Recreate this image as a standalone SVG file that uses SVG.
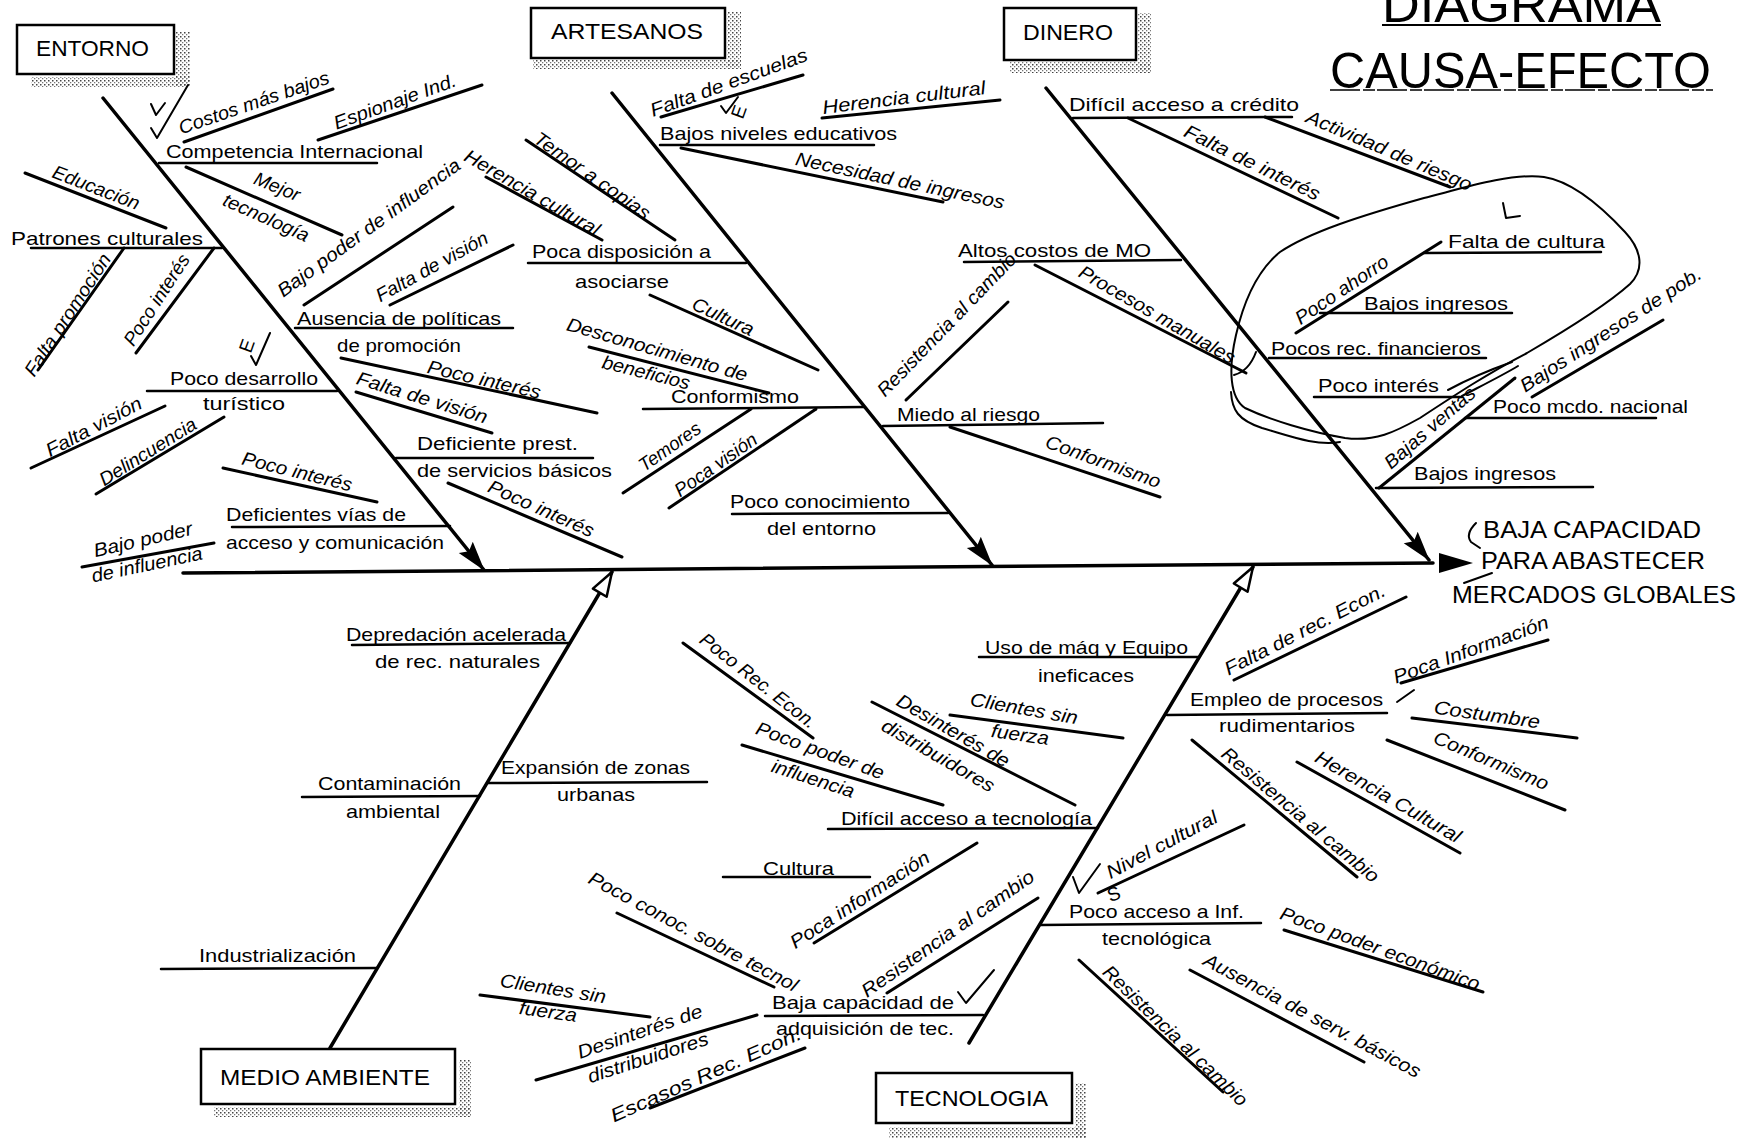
<svg xmlns="http://www.w3.org/2000/svg" width="1748" height="1142" viewBox="0 0 1748 1142">
  <style>
    .t { font-family: "Liberation Sans", Arial, sans-serif; font-size: 19px; fill: #000; }
    .r { text-anchor: middle; font-style: italic; }
    .box { fill: #fff; stroke: #000; stroke-width: 2.5; }
    .boxlabel { font-family: "Liberation Sans", Arial, sans-serif; font-size: 22px; fill: #000; }
    .shadow { fill: url(#grain); }
    .bone { stroke: #000; stroke-width: 3.5; stroke-linecap: round; fill: none; }
    .rib { stroke: #000; stroke-width: 3; stroke-linecap: round; fill: none; }
    .ul { stroke: #000; stroke-width: 2.5; stroke-linecap: round; fill: none; }
    .pen { stroke: #000; stroke-width: 2; stroke-linecap: round; stroke-linejoin: round; fill: none; }
    .title { font-family: "Liberation Sans", Arial, sans-serif; font-size: 50px; fill: #000; }
    .effect { font-family: "Liberation Sans", Arial, sans-serif; font-size: 24px; fill: #000; }
  </style>
  <defs>
    <pattern id="grain" width="4" height="4" patternUnits="userSpaceOnUse">
      <rect width="1.5" height="1.5" fill="#444"/>
      <rect x="2" y="2" width="1.3" height="1.3" fill="#777"/>
    </pattern>
    <marker id="ah" viewBox="0 0 30 20" refX="29" refY="10" markerWidth="30" markerHeight="20" markerUnits="userSpaceOnUse" orient="auto">
      <path d="M0,1 L30,10 L0,19 L5,10 z" fill="#000"/>
    </marker>
    <marker id="ah-open" viewBox="0 0 28 20" refX="26" refY="10" markerWidth="28" markerHeight="20" markerUnits="userSpaceOnUse" orient="auto">
      <path d="M2,2 L26,10 L2,18 z" fill="#fff" stroke="#000" stroke-width="2.5" stroke-linejoin="round"/>
    </marker>
  </defs>

  <rect width="1748" height="1142" fill="#fff"/>

  <!-- title -->
  <g id="title">
    <text class="title" x="1382" y="22" textLength="279" lengthAdjust="spacingAndGlyphs">DIAGRAMA</text>
    <line x1="1382" y1="25" x2="1661" y2="25" stroke="#000" stroke-width="2"/>
    <text class="title" x="1330" y="88" textLength="381" lengthAdjust="spacingAndGlyphs">CAUSA-EFECTO</text>
    <line x1="1330" y1="90" x2="1713" y2="90" stroke="#000" stroke-width="1.5" stroke-dasharray="30 3 12 2"/>
  </g>

  <!-- spine and category bones -->
  <g id="connectors">
    <line class="bone" x1="183" y1="573" x2="1433" y2="563"/>
    <line class="bone" x1="103" y1="98" x2="484" y2="570" marker-end="url(#ah)"/>
    <line class="bone" x1="612" y1="93" x2="992" y2="565" marker-end="url(#ah)"/>
    <line class="bone" x1="1046" y1="88" x2="1429" y2="560" marker-end="url(#ah)"/>
    <line class="bone" x1="330" y1="1048" x2="612" y2="572" marker-end="url(#ah-open)"/>
    <line class="bone" x1="969" y1="1043" x2="1253" y2="567" marker-end="url(#ah-open)"/>
    <polygon points="1439,553 1473,563 1439,573" fill="#000"/>
  </g>

  <!-- category boxes -->
  <g id="node-entorno">
    <rect class="shadow" x="176" y="32" width="14" height="55"/>
    <rect class="shadow" x="31" y="77" width="159" height="10"/>
    <rect class="box" x="17" y="25" width="157" height="49"/>
    <text class="boxlabel" x="36" y="56" textLength="113" lengthAdjust="spacingAndGlyphs">ENTORNO</text>
  </g>
  <g id="node-artesanos">
    <rect class="shadow" x="727" y="12" width="14" height="57"/>
    <rect class="shadow" x="533" y="60" width="208" height="9"/>
    <rect class="box" x="531" y="8" width="194" height="50"/>
    <text class="boxlabel" x="551" y="39" textLength="152" lengthAdjust="spacingAndGlyphs">ARTESANOS</text>
  </g>
  <g id="node-dinero">
    <rect class="shadow" x="1138" y="13" width="13" height="60"/>
    <rect class="shadow" x="1010" y="62" width="141" height="11"/>
    <rect class="box" x="1004" y="8" width="132" height="52"/>
    <text class="boxlabel" x="1023" y="40" textLength="90" lengthAdjust="spacingAndGlyphs">DINERO</text>
  </g>
  <g id="node-medio-ambiente">
    <rect class="shadow" x="459" y="1060" width="12" height="57"/>
    <rect class="shadow" x="214" y="1107" width="257" height="10"/>
    <rect class="box" x="201" y="1049" width="254" height="55"/>
    <text class="boxlabel" x="220" y="1085" textLength="210" lengthAdjust="spacingAndGlyphs">MEDIO AMBIENTE</text>
  </g>
  <g id="node-tecnologia">
    <rect class="shadow" x="1075" y="1083" width="11" height="55"/>
    <rect class="shadow" x="889" y="1127" width="197" height="11"/>
    <rect class="box" x="876" y="1073" width="196" height="50"/>
    <text class="boxlabel" x="895" y="1106" textLength="153" lengthAdjust="spacingAndGlyphs">TECNOLOGIA</text>
  </g>

  <!-- effect -->
  <g id="node-efecto">
    <text class="effect" x="1483" y="538" textLength="218" lengthAdjust="spacingAndGlyphs">BAJA CAPACIDAD</text>
    <text class="effect" x="1481" y="569" textLength="224" lengthAdjust="spacingAndGlyphs">PARA ABASTECER</text>
    <text class="effect" x="1452" y="603" textLength="284" lengthAdjust="spacingAndGlyphs">MERCADOS GLOBALES</text>
    <path class="pen" d="M1476,523 Q1465,534 1471,542 L1480,548" stroke-width="1.5"/>
    <path class="pen" d="M1464,583 L1492,573" stroke-width="1.2"/>
  </g>

  <!-- ENTORNO causes -->
  <g id="causes-entorno">
    <line class="rib" x1="184" y1="142" x2="333" y2="89"/>
    <line class="rib" x1="318" y1="140" x2="482" y2="85"/>
    <line class="ul" x1="159" y1="163" x2="377" y2="163"/>
    <line class="rib" x1="186" y1="167" x2="342" y2="235"/>
    <line class="rib" x1="25" y1="173" x2="166" y2="228"/>
    <line class="ul" x1="31" y1="248" x2="222" y2="248"/>
    <line class="rib" x1="38" y1="370" x2="124" y2="248"/>
    <line class="rib" x1="136" y1="353" x2="214" y2="248"/>
    <line class="rib" x1="304" y1="305" x2="453" y2="207"/>
    <line class="rib" x1="390" y1="305" x2="513" y2="245"/>
    <line class="ul" x1="295" y1="328" x2="513" y2="328"/>
    <line class="rib" x1="341" y1="358" x2="597" y2="413"/>
    <line class="rib" x1="356" y1="392" x2="492" y2="433"/>
    <line class="ul" x1="396" y1="458" x2="593" y2="458"/>
    <line class="rib" x1="448" y1="483" x2="622" y2="557"/>
    <line class="ul" x1="147" y1="391" x2="337" y2="391"/>
    <line class="rib" x1="31" y1="468" x2="165" y2="406"/>
    <line class="rib" x1="96" y1="494" x2="224" y2="417"/>
    <line class="rib" x1="223" y1="468" x2="377" y2="502"/>
    <line class="ul" x1="232" y1="527" x2="450" y2="526"/>
    <line class="rib" x1="82" y1="567" x2="214" y2="543"/>

    <text class="t r" transform="translate(254 103) rotate(-19)" y="6" textLength="158" lengthAdjust="spacingAndGlyphs">Costos más bajos</text>
    <text class="t r" transform="translate(395 102) rotate(-20)" y="6" textLength="129" lengthAdjust="spacingAndGlyphs">Espionaje Ind.</text>
    <text class="t" x="166" y="158" textLength="257" lengthAdjust="spacingAndGlyphs">Competencia Internacional</text>
    <text class="t r" transform="translate(277 187) rotate(22)" y="6" textLength="48" lengthAdjust="spacingAndGlyphs">Mejor</text>
    <text class="t r" transform="translate(266 218) rotate(24)" y="6" textLength="92" lengthAdjust="spacingAndGlyphs">tecnología</text>
    <text class="t r" transform="translate(96 188) rotate(21)" y="6" textLength="92" lengthAdjust="spacingAndGlyphs">Educación</text>
    <text class="t" x="11" y="245" textLength="192" lengthAdjust="spacingAndGlyphs">Patrones culturales</text>
    <text class="t r" transform="translate(68 315) rotate(-57)" y="6" textLength="142" lengthAdjust="spacingAndGlyphs">Falta promoción</text>
    <text class="t r" transform="translate(157 300) rotate(-57)" y="6" textLength="105" lengthAdjust="spacingAndGlyphs">Poco interés</text>
    <text class="t r" transform="translate(369 228) rotate(-36)" y="6" textLength="221" lengthAdjust="spacingAndGlyphs">Bajo poder de influencia</text>
    <text class="t r" transform="translate(432 267) rotate(-29)" y="6" textLength="125" lengthAdjust="spacingAndGlyphs">Falta de visión</text>
    <text class="t" x="297" y="325" textLength="204" lengthAdjust="spacingAndGlyphs">Ausencia de políticas</text>
    <text class="t" x="337" y="352" textLength="124" lengthAdjust="spacingAndGlyphs">de promoción</text>
    <text class="t r" transform="translate(484 380) rotate(13)" y="6" textLength="116" lengthAdjust="spacingAndGlyphs">Poco interés</text>
    <text class="t r" transform="translate(422 398) rotate(17)" y="6" textLength="136" lengthAdjust="spacingAndGlyphs">Falta de visión</text>
    <text class="t" x="417" y="450" textLength="161" lengthAdjust="spacingAndGlyphs">Deficiente prest.</text>
    <text class="t" x="417" y="477" textLength="195" lengthAdjust="spacingAndGlyphs">de servicios básicos</text>
    <text class="t r" transform="translate(541 509) rotate(24)" y="6" textLength="114" lengthAdjust="spacingAndGlyphs">Poco interés</text>
    <text class="t" x="170" y="385" textLength="148" lengthAdjust="spacingAndGlyphs">Poco desarrollo</text>
    <text class="t" x="203" y="410" textLength="82" lengthAdjust="spacingAndGlyphs">turístico</text>
    <text class="t r" transform="translate(94 427) rotate(-28)" y="6" textLength="106" lengthAdjust="spacingAndGlyphs">Falta visión</text>
    <text class="t r" transform="translate(148 452) rotate(-32)" y="6" textLength="111" lengthAdjust="spacingAndGlyphs">Delincuencia</text>
    <text class="t r" transform="translate(297 472) rotate(14)" y="6" textLength="113" lengthAdjust="spacingAndGlyphs">Poco interés</text>
    <text class="t" x="226" y="521" textLength="180" lengthAdjust="spacingAndGlyphs">Deficientes vías de</text>
    <text class="t" x="226" y="549" textLength="218" lengthAdjust="spacingAndGlyphs">acceso y comunicación</text>
    <text class="t r" transform="translate(143 540) rotate(-13)" y="6" textLength="101" lengthAdjust="spacingAndGlyphs">Bajo poder</text>
    <text class="t r" transform="translate(147 565) rotate(-12)" y="6" textLength="113" lengthAdjust="spacingAndGlyphs">de influencia</text>

    <!-- pen marks -->
    <path class="pen" d="M151,104 L156,115 L165,103"/>
    <path class="pen" d="M151,128 L157,138 L188,85"/>
    <path class="pen" d="M251,356 L256,365 L270,333"/>
    <text class="t" transform="translate(253 348) rotate(-70)" font-size="11" text-anchor="middle">E</text>
  </g>

  <!-- ARTESANOS causes -->
  <g id="causes-artesanos">
    <line class="rib" x1="486" y1="177" x2="602" y2="240"/>
    <line class="rib" x1="661" y1="117" x2="803" y2="75"/>
    <line class="rib" x1="822" y1="118" x2="1000" y2="100"/>
    <line class="ul" x1="660" y1="145" x2="874" y2="145"/>
    <line class="rib" x1="681" y1="148" x2="943" y2="202"/>
    <line class="rib" x1="526" y1="140" x2="675" y2="240"/>
    <line class="ul" x1="528" y1="263" x2="746" y2="263"/>
    <line class="rib" x1="650" y1="295" x2="818" y2="370"/>
    <line class="rib" x1="589" y1="347" x2="769" y2="393"/>
    <line class="ul" x1="643" y1="409" x2="864" y2="407"/>
    <line class="rib" x1="623" y1="493" x2="751" y2="409"/>
    <line class="rib" x1="669" y1="508" x2="816" y2="409"/>
    <line class="ul" x1="732" y1="514" x2="948" y2="513"/>
    <line class="rib" x1="906" y1="400" x2="1008" y2="302"/>
    <line class="ul" x1="883" y1="426" x2="1103" y2="423"/>
    <line class="rib" x1="950" y1="427" x2="1160" y2="497"/>

    <text class="t r" transform="translate(532 193) rotate(30)" y="6" textLength="153" lengthAdjust="spacingAndGlyphs">Herencia cultural</text>
    <text class="t r" transform="translate(729 83) rotate(-20)" y="6" textLength="166" lengthAdjust="spacingAndGlyphs">Falta de escuelas</text>
    <text class="t r" transform="translate(904 98) rotate(-7)" y="6" textLength="164" lengthAdjust="spacingAndGlyphs">Herencia cultural</text>
    <text class="t" x="660" y="140" textLength="237" lengthAdjust="spacingAndGlyphs">Bajos niveles educativos</text>
    <text class="t r" transform="translate(900 181) rotate(12)" y="6" textLength="213" lengthAdjust="spacingAndGlyphs">Necesidad de ingresos</text>
    <text class="t r" transform="translate(592 176) rotate(35)" y="6" textLength="137" lengthAdjust="spacingAndGlyphs">Temor a copias</text>
    <text class="t" x="532" y="258" textLength="179" lengthAdjust="spacingAndGlyphs">Poca disposición a</text>
    <text class="t" x="575" y="288" textLength="94" lengthAdjust="spacingAndGlyphs">asociarse</text>
    <text class="t r" transform="translate(723 317) rotate(25)" y="6" textLength="66" lengthAdjust="spacingAndGlyphs">Cultura</text>
    <text class="t r" transform="translate(657 350) rotate(16)" y="6" textLength="187" lengthAdjust="spacingAndGlyphs">Desconocimiento de</text>
    <text class="t r" transform="translate(646 373) rotate(14)" y="6" textLength="90" lengthAdjust="spacingAndGlyphs">beneficios</text>
    <text class="t" x="671" y="403" textLength="128" lengthAdjust="spacingAndGlyphs">Conformismo</text>
    <text class="t r" transform="translate(670 447) rotate(-35)" y="6" textLength="71" lengthAdjust="spacingAndGlyphs">Temores</text>
    <text class="t r" transform="translate(716 465) rotate(-35)" y="6" textLength="96" lengthAdjust="spacingAndGlyphs">Poca visión</text>
    <text class="t" x="730" y="508" textLength="180" lengthAdjust="spacingAndGlyphs">Poco conocimiento</text>
    <text class="t" x="767" y="535" textLength="109" lengthAdjust="spacingAndGlyphs">del entorno</text>
    <text class="t r" transform="translate(947 325) rotate(-46)" y="6" textLength="191" lengthAdjust="spacingAndGlyphs">Resistencia al cambio</text>
    <text class="t" x="897" y="421" textLength="143" lengthAdjust="spacingAndGlyphs">Miedo al riesgo</text>
    <text class="t r" transform="translate(1103 462) rotate(20)" y="6" textLength="121" lengthAdjust="spacingAndGlyphs">Conformismo</text>

    <path class="pen" d="M721,106 L726,113 L738,97"/>
    <text class="t" transform="translate(745 114) rotate(-70)" font-size="10" text-anchor="middle">E</text>
  </g>

  <!-- DINERO causes -->
  <g id="causes-dinero">
    <line class="ul" x1="1073" y1="118" x2="1292" y2="117"/>
    <line class="rib" x1="1265" y1="117" x2="1450" y2="187"/>
    <line class="rib" x1="1128" y1="118" x2="1338" y2="218"/>
    <line class="ul" x1="964" y1="262" x2="1181" y2="260"/>
    <line class="rib" x1="1035" y1="265" x2="1246" y2="373"/>
    <line class="ul" x1="1424" y1="253" x2="1601" y2="252"/>
    <line class="rib" x1="1296" y1="333" x2="1441" y2="242"/>
    <line class="ul" x1="1320" y1="313" x2="1512" y2="313"/>
    <line class="ul" x1="1269" y1="358" x2="1486" y2="358"/>
    <line class="ul" x1="1314" y1="397" x2="1462" y2="397"/>
    <line class="rib" x1="1379" y1="488" x2="1515" y2="378"/>
    <line class="rib" x1="1532" y1="397" x2="1663" y2="320"/>
    <line class="ul" x1="1465" y1="418" x2="1656" y2="418"/>
    <line class="ul" x1="1376" y1="488" x2="1593" y2="487"/>

    <!-- hand-drawn ring round the financial causes -->
    <path class="pen" d="M1424,198 C1450,192 1510,172 1544,177 C1570,181 1600,205 1625,232 C1640,248 1646,268 1630,284 C1610,302 1575,325 1527,353 C1490,372 1455,395 1420,418 C1395,432 1375,442 1345,438 C1310,432 1270,420 1245,408 C1230,398 1228,370 1236,335 C1244,300 1258,270 1280,252 C1310,232 1360,216 1424,198 Z"/>
    <path class="pen" d="M1231,392 C1232,410 1238,420 1262,428 C1290,436 1315,446 1340,442" stroke-width="1.5"/>
    <path class="pen" d="M1448,390 C1470,378 1495,368 1512,362" stroke-width="1.5"/>
    <path class="pen" d="M1462,396 C1485,384 1505,374 1518,366" stroke-width="1.5"/>
    <path class="pen" d="M1234,375 Q1249,371 1256,352" stroke-width="1.5"/>
    <path class="pen" d="M1503,203 L1506,218 L1520,216" stroke-width="1.5"/>

    <text class="t" x="1069" y="111" textLength="230" lengthAdjust="spacingAndGlyphs">Difícil acceso a crédito</text>
    <text class="t r" transform="translate(1389 151) rotate(23)" y="6" textLength="178" lengthAdjust="spacingAndGlyphs">Actividad de riesgo</text>
    <text class="t r" transform="translate(1252 163) rotate(26)" y="6" textLength="149" lengthAdjust="spacingAndGlyphs">Falta de interés</text>
    <text class="t" x="958" y="257" textLength="193" lengthAdjust="spacingAndGlyphs">Altos costos de MO</text>
    <text class="t r" transform="translate(1157 315) rotate(30)" y="6" textLength="177" lengthAdjust="spacingAndGlyphs">Procesos manuales</text>
    <text class="t" x="1448" y="248" textLength="157" lengthAdjust="spacingAndGlyphs">Falta de cultura</text>
    <text class="t r" transform="translate(1342 290) rotate(-34)" y="6" textLength="108" lengthAdjust="spacingAndGlyphs">Poco ahorro</text>
    <text class="t" x="1364" y="310" textLength="144" lengthAdjust="spacingAndGlyphs">Bajos ingresos</text>
    <text class="t" x="1271" y="355" textLength="210" lengthAdjust="spacingAndGlyphs">Pocos rec. financieros</text>
    <text class="t" x="1318" y="392" textLength="121" lengthAdjust="spacingAndGlyphs">Poco interés</text>
    <text class="t r" transform="translate(1430 428) rotate(-41)" y="6" textLength="114" lengthAdjust="spacingAndGlyphs">Bajas ventas</text>
    <text class="t r" transform="translate(1611 330) rotate(-33)" y="6" textLength="212" lengthAdjust="spacingAndGlyphs">Bajos ingresos de pob.</text>
    <text class="t" x="1493" y="413" textLength="195" lengthAdjust="spacingAndGlyphs">Poco mcdo. nacional</text>
    <text class="t" x="1414" y="480" textLength="142" lengthAdjust="spacingAndGlyphs">Bajos ingresos</text>
  </g>

  <!-- MEDIO AMBIENTE causes -->
  <g id="causes-medio-ambiente">
    <line class="ul" x1="352" y1="645" x2="570" y2="643"/>
    <line class="ul" x1="302" y1="797" x2="480" y2="796"/>
    <line class="ul" x1="488" y1="783" x2="707" y2="782"/>
    <line class="ul" x1="161" y1="969" x2="377" y2="968"/>
    <text class="t" x="346" y="641" textLength="220" lengthAdjust="spacingAndGlyphs">Depredación acelerada</text>
    <text class="t" x="375" y="668" textLength="165" lengthAdjust="spacingAndGlyphs">de rec. naturales</text>
    <text class="t" x="318" y="790" textLength="143" lengthAdjust="spacingAndGlyphs">Contaminación</text>
    <text class="t" x="346" y="818" textLength="94" lengthAdjust="spacingAndGlyphs">ambiental</text>
    <text class="t" x="501" y="774" textLength="189" lengthAdjust="spacingAndGlyphs">Expansión de zonas</text>
    <text class="t" x="557" y="801" textLength="78" lengthAdjust="spacingAndGlyphs">urbanas</text>
    <text class="t" x="199" y="962" textLength="157" lengthAdjust="spacingAndGlyphs">Industrialización</text>
  </g>

  <!-- TECNOLOGIA causes -->
  <g id="causes-tecnologia">
    <line class="ul" x1="979" y1="657" x2="1198" y2="657"/>
    <line class="rib" x1="950" y1="715" x2="1123" y2="738"/>
    <line class="rib" x1="872" y1="702" x2="1075" y2="805"/>
    <line class="rib" x1="683" y1="643" x2="813" y2="738"/>
    <line class="rib" x1="742" y1="745" x2="943" y2="805"/>
    <line class="ul" x1="828" y1="829" x2="1098" y2="828"/>
    <line class="ul" x1="723" y1="877" x2="870" y2="877"/>
    <line class="rib" x1="814" y1="943" x2="977" y2="843"/>
    <line class="rib" x1="887" y1="993" x2="1038" y2="898"/>
    <line class="ul" x1="765" y1="1016" x2="983" y2="1015"/>
    <line class="rib" x1="617" y1="913" x2="774" y2="987"/>
    <line class="rib" x1="480" y1="995" x2="650" y2="1017"/>
    <line class="rib" x1="536" y1="1080" x2="757" y2="1015"/>
    <line class="rib" x1="650" y1="1108" x2="805" y2="1048"/>
    <line class="rib" x1="1234" y1="680" x2="1406" y2="597"/>
    <line class="ul" x1="1167" y1="715" x2="1387" y2="713"/>
    <line class="rib" x1="1401" y1="683" x2="1548" y2="640"/>
    <line class="rib" x1="1412" y1="718" x2="1577" y2="738"/>
    <line class="rib" x1="1387" y1="740" x2="1565" y2="810"/>
    <line class="rib" x1="1297" y1="762" x2="1460" y2="853"/>
    <line class="rib" x1="1192" y1="740" x2="1357" y2="877"/>
    <line class="rib" x1="1098" y1="893" x2="1244" y2="825"/>
    <line class="ul" x1="1040" y1="925" x2="1261" y2="923"/>
    <line class="rib" x1="1284" y1="930" x2="1483" y2="992"/>
    <line class="rib" x1="1190" y1="970" x2="1364" y2="1062"/>
    <line class="rib" x1="1079" y1="960" x2="1223" y2="1092"/>

    <text class="t" x="985" y="654" textLength="203" lengthAdjust="spacingAndGlyphs">Uso de máq y Equipo</text>
    <text class="t" x="1038" y="682" textLength="96" lengthAdjust="spacingAndGlyphs">ineficaces</text>
    <text class="t r" transform="translate(1024 709) rotate(10)" y="6" textLength="109" lengthAdjust="spacingAndGlyphs">Clientes sin</text>
    <text class="t r" transform="translate(1020 735) rotate(8)" y="6" textLength="58" lengthAdjust="spacingAndGlyphs">fuerza</text>
    <text class="t r" transform="translate(953 731) rotate(30)" y="6" textLength="127" lengthAdjust="spacingAndGlyphs">Desinterés de</text>
    <text class="t r" transform="translate(938 756) rotate(30)" y="6" textLength="127" lengthAdjust="spacingAndGlyphs">distribuidores</text>
    <text class="t r" transform="translate(758 681) rotate(38)" y="6" textLength="142" lengthAdjust="spacingAndGlyphs">Poco Rec. Econ.</text>
    <text class="t r" transform="translate(820 751) rotate(20)" y="6" textLength="135" lengthAdjust="spacingAndGlyphs">Poco poder de</text>
    <text class="t r" transform="translate(813 779) rotate(18)" y="6" textLength="86" lengthAdjust="spacingAndGlyphs">influencia</text>
    <text class="t" x="841" y="825" textLength="251" lengthAdjust="spacingAndGlyphs">Difícil acceso a tecnología</text>
    <text class="t" x="763" y="875" textLength="71" lengthAdjust="spacingAndGlyphs">Cultura</text>
    <text class="t r" transform="translate(860 900) rotate(-33)" y="6" textLength="162" lengthAdjust="spacingAndGlyphs">Poca información</text>
    <text class="t r" transform="translate(948 934) rotate(-35)" y="6" textLength="206" lengthAdjust="spacingAndGlyphs">Resistencia al cambio</text>
    <text class="t" x="772" y="1009" textLength="182" lengthAdjust="spacingAndGlyphs">Baja capacidad de</text>
    <text class="t" x="776" y="1035" textLength="178" lengthAdjust="spacingAndGlyphs">adquisición de tec.</text>
    <text class="t r" transform="translate(693 932) rotate(28)" y="6" textLength="234" lengthAdjust="spacingAndGlyphs">Poco conoc. sobre tecnol</text>
    <text class="t r" transform="translate(553 989) rotate(9)" y="6" textLength="107" lengthAdjust="spacingAndGlyphs">Clientes sin</text>
    <text class="t r" transform="translate(548 1012) rotate(8)" y="6" textLength="58" lengthAdjust="spacingAndGlyphs">fuerza</text>
    <text class="t r" transform="translate(640 1032) rotate(-19)" y="6" textLength="131" lengthAdjust="spacingAndGlyphs">Desinterés de</text>
    <text class="t r" transform="translate(648 1058) rotate(-18)" y="6" textLength="126" lengthAdjust="spacingAndGlyphs">distribuidores</text>
    <text class="t r" transform="translate(706 1075) rotate(-24)" y="6" textLength="207" lengthAdjust="spacingAndGlyphs">Escasos Rec. Econ.</text>
    <text class="t r" transform="translate(1305 630) rotate(-27)" y="6" textLength="178" lengthAdjust="spacingAndGlyphs">Falta de rec. Econ.</text>
    <text class="t" x="1190" y="706" textLength="193" lengthAdjust="spacingAndGlyphs">Empleo de procesos</text>
    <text class="t" x="1219" y="732" textLength="136" lengthAdjust="spacingAndGlyphs">rudimentarios</text>
    <text class="t r" transform="translate(1471 650) rotate(-20)" y="6" textLength="164" lengthAdjust="spacingAndGlyphs">Poca Información</text>
    <text class="t r" transform="translate(1487 715) rotate(8)" y="6" textLength="107" lengthAdjust="spacingAndGlyphs">Costumbre</text>
    <text class="t r" transform="translate(1491 761) rotate(23)" y="6" textLength="123" lengthAdjust="spacingAndGlyphs">Conformismo</text>
    <text class="t r" transform="translate(1388 797) rotate(30)" y="6" textLength="165" lengthAdjust="spacingAndGlyphs">Herencia Cultural</text>
    <text class="t r" transform="translate(1300 815) rotate(40)" y="6" textLength="199" lengthAdjust="spacingAndGlyphs">Resistencia al cambio</text>
    <text class="t r" transform="translate(1162 845) rotate(-28)" y="6" textLength="123" lengthAdjust="spacingAndGlyphs">Nivel cultural</text>
    <text class="t" x="1069" y="918" textLength="175" lengthAdjust="spacingAndGlyphs">Poco acceso a Inf.</text>
    <text class="t" x="1102" y="945" textLength="109" lengthAdjust="spacingAndGlyphs">tecnológica</text>
    <text class="t r" transform="translate(1380 949) rotate(20)" y="6" textLength="211" lengthAdjust="spacingAndGlyphs">Poco poder económico</text>
    <text class="t r" transform="translate(1312 1016) rotate(28)" y="6" textLength="243" lengthAdjust="spacingAndGlyphs">Ausencia de serv. básicos</text>
    <text class="t r" transform="translate(1175 1036) rotate(44)" y="6" textLength="193" lengthAdjust="spacingAndGlyphs">Resistencia al cambio</text>

    <!-- pen marks -->
    <path class="pen" d="M1073,877 L1079,893 L1100,864"/>
    <text class="t" transform="translate(1116 900) rotate(-20)" font-size="14" text-anchor="middle">S</text>
    <path class="pen" d="M958,992 L966,1003 L994,970"/>
    <path class="pen" d="M1397,702 L1414,690" stroke-width="1.5"/>
  </g>
</svg>
